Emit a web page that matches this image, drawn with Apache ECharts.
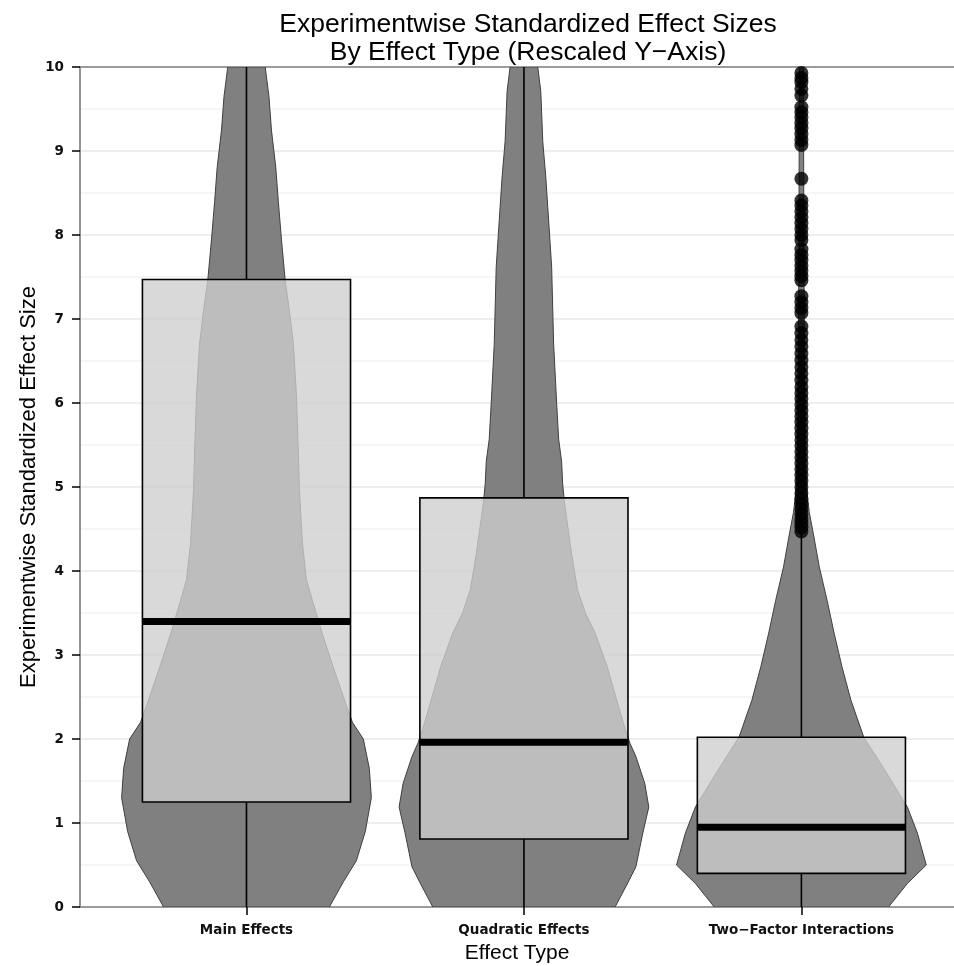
<!DOCTYPE html>
<html>
<head>
<meta charset="utf-8">
<script src="https://cdn.jsdelivr.net/npm/echarts@6/dist/echarts.min.js"></script>
<style>
html,body{margin:0;padding:0;background:#ffffff;}
#chart{width:954px;height:966px;}
</style>
</head>
<body>
<div id="chart"></div>
<script>
// ---------- data ----------
const categories = ['Main Effects', 'Quadratic Effects', 'Two\u2212Factor Interactions'];
const categoryPos = [1, 2, 3];

// box-plot statistics
const boxMin    = [0.00, 0.00, 0.00];
const boxQ1     = [1.25, 0.81, 0.40];
const boxMedian = [3.40, 1.96, 0.95];
const boxQ3     = [7.47, 4.87, 2.02];
const boxMax    = [16.8, 10.96, 4.45];

// violin profiles: effect-size value and relative width (1 = widest)
const violinMainY = [0, 0.3, 0.55, 0.9, 1.3, 1.65, 2.0, 2.2, 2.4, 2.85, 3.25, 3.65, 3.9, 4.33, 4.97, 5.4, 6.1, 6.7, 7.1, 7.46, 7.95, 8.4, 8.8, 9.25, 9.65, 10];
const violinMainW = [0.664, 0.776, 0.88, 0.952, 1.0, 0.984, 0.936, 0.848, 0.80, 0.696, 0.608, 0.528, 0.48, 0.448, 0.424, 0.416, 0.40, 0.376, 0.344, 0.31, 0.28, 0.255, 0.235, 0.20, 0.18, 0.15];

const violinQuadY = [0, 0.29, 0.48, 0.88, 1.19, 1.47, 1.79, 1.95, 2.2, 2.86, 3.26, 3.5, 3.78, 4.21, 4.81, 5.04, 5.3, 5.57, 6.0, 6.7, 7.62, 8.17, 8.69, 9.11, 9.71, 10];
const violinQuadW = [0.730, 0.833, 0.897, 0.952, 1.0, 0.968, 0.897, 0.849, 0.794, 0.667, 0.571, 0.492, 0.429, 0.381, 0.325, 0.310, 0.302, 0.278, 0.262, 0.238, 0.222, 0.198, 0.175, 0.151, 0.135, 0.111];

const violinTwoY = [0, 0.28, 0.5, 0.88, 1.19, 1.67, 2.02, 2.46, 2.86, 3.26, 3.65, 4.05, 4.45, 4.7, 5.0, 5.5, 6.5, 8.0, 10];
const violinTwoW = [0.698, 0.849, 1.0, 0.929, 0.849, 0.651, 0.5, 0.397, 0.325, 0.262, 0.206, 0.143, 0.095, 0.063, 0.040, 0.028, 0.024, 0.020, 0.016];

// outliers of the Two-Factor Interactions group
const outlierTwoFactor = [
  4.47, 4.52, 4.57, 4.62, 4.68, 4.74, 4.80, 4.86, 4.93, 5.00, 5.07, 5.14, 5.21, 5.28, 5.35,
  5.42, 5.49, 5.56, 5.63, 5.70, 5.77, 5.84, 5.91, 5.98, 6.05, 6.12, 6.19, 6.27, 6.35, 6.43,
  6.51, 6.59, 6.67, 6.75, 6.83, 6.91,
  7.07, 7.13, 7.20, 7.27,
  7.46, 7.51, 7.57, 7.63, 7.70, 7.76, 7.83,
  7.94, 8.00, 8.07, 8.14, 8.21, 8.28, 8.35, 8.41,
  8.67,
  9.07, 9.13, 9.20, 9.27, 9.33, 9.40, 9.46, 9.52,
  9.66, 9.74, 9.82, 9.87, 9.93
];

const yTickValues = [0, 1, 2, 3, 4, 5, 6, 7, 8, 9, 10];

// ---------- chart ----------
const violinY = [violinMainY, violinQuadY, violinTwoY];
const violinW = [violinMainW, violinQuadW, violinTwoW];
const VIOLIN_HALF = 0.45;
const BOX_HALF = 0.375;
const X_MIN = 0.4, X_MAX = 3.55;

const chart = echarts.init(document.getElementById('chart'), null, {renderer: 'canvas'});

const option = {
  backgroundColor: '#ffffff',
  animation: false,
  title: {
    text: 'Experimentwise Standardized Effect Sizes\nBy Effect Type (Rescaled Y\u2212Axis)',
    left: 523,
    top: 6,
    textAlign: 'center',
    textStyle: {
      fontFamily: 'Liberation Sans',
      fontSize: 26.5,
      fontWeight: 'normal',
      lineHeight: 28,
      color: '#000'
    }
  },
  grid: {
    left: 80, right: 0, top: 67, bottom: 59,
    show: false,
    outerBoundsMode: 'none',
    containLabel: false
  },
  xAxis: [
    {
      type: 'value',
      position: 'bottom',
      min: X_MIN,
      max: X_MAX,
      name: 'Effect Type',
      nameLocation: 'middle',
      nameGap: 36,
      nameMoveOverlap: false,
      nameTextStyle: {fontFamily: 'Liberation Sans', fontSize: 21, color: '#000', verticalAlign: 'top'},
      axisLine: {show: true, lineStyle: {color: '#808080', width: 1.5}},
      axisTick: {show: true, customValues: categoryPos, length: 8, lineStyle: {color: '#000', width: 1.5}},
      axisLabel: {
        customValues: categoryPos,
        formatter: v => categories[Math.round(v) - 1],
        fontFamily: 'DejaVu Sans', fontWeight: 'bold', fontSize: 13.5, color: '#111', margin: 16
      },
      splitLine: {show: false}
    },
    {
      type: 'value',
      position: 'top',
      min: X_MIN,
      max: X_MAX,
      axisLine: {show: true, lineStyle: {color: '#808080', width: 1.5}},
      axisTick: {show: false},
      axisLabel: {show: false},
      splitLine: {show: false}
    }
  ],
  yAxis: {
    type: 'value',
    min: 0,
    max: 10,
    interval: 1,
    name: 'Experimentwise Standardized Effect Size',
    nameLocation: 'middle',
    nameGap: 40,
    nameMoveOverlap: false,
    nameTextStyle: {fontFamily: 'Liberation Sans', fontSize: 22, color: '#000'},
    axisLine: {show: true, lineStyle: {color: '#707070', width: 1.5}},
    axisTick: {show: true, length: 8, lineStyle: {color: '#000', width: 1.5}},
    axisLabel: {
      formatter: v => (yTickValues.indexOf(v) >= 0 ? String(v) : ''),
      fontFamily: 'DejaVu Sans', fontWeight: 'bold', fontSize: 13.5, color: '#111', margin: 16
    },
    splitLine: {show: true, lineStyle: {color: '#e8e8e8', width: 1.5}},
    minorTick: {show: false, splitNumber: 2},
    minorSplitLine: {show: true, lineStyle: {color: '#f4f4f4', width: 1.5}}
  },
  series: [
    {
      type: 'custom',
      name: 'violin',
      xAxisIndex: 0,
      clip: true,
      z: 2,
      data: categoryPos.map(p => [p]),
      renderItem: function (params, api) {
        const i = params.dataIndex;
        const cx = api.value(0);
        const ys = violinY[i], ws = violinW[i];
        const pts = [];
        for (let k = 0; k < ys.length; k++) pts.push(api.coord([cx - ws[k] * VIOLIN_HALF, ys[k]]));
        for (let k = ys.length - 1; k >= 0; k--) pts.push(api.coord([cx + ws[k] * VIOLIN_HALF, ys[k]]));
        return {
          type: 'polygon',
          shape: {points: pts},
          style: {fill: '#808080', stroke: '#404040', lineWidth: 1}
        };
      }
    },
    {
      type: 'custom',
      name: 'box',
      xAxisIndex: 0,
      clip: true,
      z: 3,
      data: categoryPos.map((p, i) => [p, boxMin[i], boxQ1[i], boxMedian[i], boxQ3[i], boxMax[i]]),
      renderItem: function (params, api) {
        const cx = api.value(0);
        const mn = api.value(1), q1 = api.value(2), md = api.value(3), q3 = api.value(4), mx = api.value(5);
        const pMin = api.coord([cx, mn]);
        const pQ1 = api.coord([cx, q1]);
        const pQ3 = api.coord([cx, q3]);
        const pMax = api.coord([cx, mx]);
        const l = api.coord([cx - BOX_HALF, q3]);
        const r = api.coord([cx + BOX_HALF, q1]);
        const ml = api.coord([cx - BOX_HALF, md]);
        const mr = api.coord([cx + BOX_HALF, md]);
        return {
          type: 'group',
          children: [
            {type: 'line', shape: {x1: pQ3[0], y1: pQ3[1], x2: pMax[0], y2: pMax[1]}, style: {stroke: '#000', lineWidth: 1.6}},
            {type: 'line', shape: {x1: pMin[0], y1: pMin[1], x2: pQ1[0], y2: pQ1[1]}, style: {stroke: '#000', lineWidth: 1.6}},
            {type: 'rect', shape: {x: l[0], y: l[1], width: r[0] - l[0], height: r[1] - l[1]},
             style: {fill: 'rgba(206,206,206,0.78)', stroke: '#000', lineWidth: 1.6}},
            {type: 'line', shape: {x1: ml[0], y1: ml[1], x2: mr[0], y2: mr[1]}, style: {stroke: '#000', lineWidth: 7, lineCap: 'butt'}}
          ]
        };
      }
    },
    {
      type: 'scatter',
      name: 'outliers',
      xAxisIndex: 0,
      clip: true,
      z: 4,
      symbol: 'circle',
      symbolSize: 14,
      itemStyle: {color: '#000'},
      data: outlierTwoFactor.map(v => [categoryPos[2], v])
    }
  ]
};

chart.setOption(option);
</script>
</body>
</html>
